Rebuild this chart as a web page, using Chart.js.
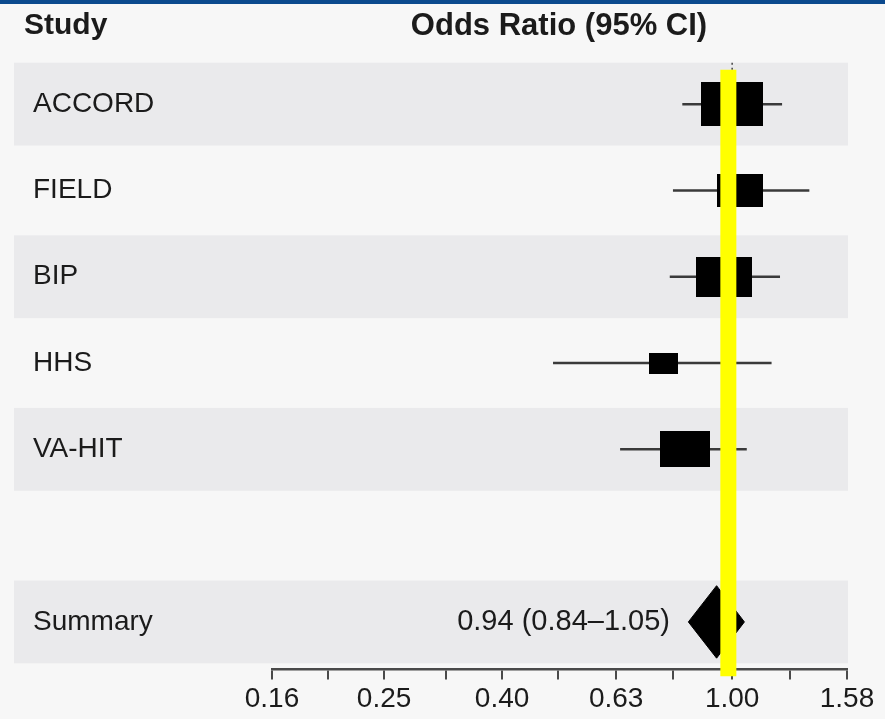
<!DOCTYPE html>
<html>
<head>
<meta charset="utf-8">
<title>Odds Ratio Forest Plot</title>
<script src="https://cdn.jsdelivr.net/npm/chart.js@4/dist/chart.umd.min.js"></script>
<style>
  html, body { margin: 0; padding: 0; background: #f7f7f7; }
  #wrap { width: 885px; height: 719px; }
</style>
</head>
<body>
<div id="wrap"><canvas id="forest" width="885" height="719"></canvas></div>
<script>
// Individual studies
const studies   = ['ACCORD', 'FIELD', 'BIP', 'HHS', 'VA-HIT'];
const oddsRatio = [1.00, 1.03, 0.97, 0.76, 0.83];
const ciLower   = [0.82, 0.79, 0.78, 0.49, 0.64];
const ciUpper   = [1.22, 1.36, 1.21, 1.17, 1.06];
const weights   = [30.3, 17.1, 24.9, 7.0, 20.7];   // percent weight, sets box size

// Pooled estimate: [odds ratio, lower, upper]
const summaryLabel = 'Summary';
const summary = [0.94, 0.84, 1.05];

// Axis ticks
const axisTicks  = [0.16, 0.25, 0.40, 0.63, 1.00, 1.58];
const minorTicks = [0.20, 0.32, 0.50, 0.79, 1.26];

// Highlighted reference value
const highlightOR = 0.985;

// ---------------------------------------------------------------
const INK = '#1b1b1b';
const rowOf = i => i + 1;                      // study rows 1..5
const summaryRow = studies.length + 2;         // blank row, then summary

// Weight-scaled black boxes used as point styles
function makeBox(weight) {
  const h = Math.round(8 * Math.sqrt(weight));
  const w = Math.round(h * 1.4);
  const c = document.createElement('canvas');
  c.width = w; c.height = h;
  const g = c.getContext('2d');
  g.fillStyle = '#000';
  g.fillRect(0, 0, w, h);
  return c;
}
const boxes = weights.map(makeBox);

const datasets = [];

// Highlight line
datasets.push({
  type: 'line',
  data: [{ x: highlightOR, y: 0.6 }, { x: highlightOR, y: 7.63 }],
  borderColor: '#ffff00',
  borderWidth: 16,
  borderCapStyle: 'butt',
  pointRadius: 0,
  clip: false,
  order: 0
});

// Study boxes
datasets.push({
  type: 'scatter',
  data: studies.map((s, i) => ({ x: oddsRatio[i], y: rowOf(i) })),
  pointStyle: ctx => boxes[ctx.dataIndex],
  backgroundColor: '#000',
  borderColor: '#000',
  order: 1
});

// Summary diamond
const dh = 0.42;
datasets.push({
  type: 'line',
  data: [
    { x: summary[1], y: summaryRow },
    { x: summary[0], y: summaryRow - dh },
    { x: summary[2], y: summaryRow },
    { x: summary[0], y: summaryRow + dh },
    { x: summary[1], y: summaryRow }
  ],
  borderColor: '#000',
  backgroundColor: '#000',
  borderWidth: 1,
  fill: 'shape',
  pointRadius: 0,
  tension: 0,
  order: 1
});

// Confidence interval whiskers
studies.forEach((s, i) => {
  datasets.push({
    type: 'line',
    data: [{ x: ciLower[i], y: rowOf(i) }, { x: ciUpper[i], y: rowOf(i) }],
    borderColor: '#3a3a3a',
    borderWidth: 2.5,
    pointRadius: 0,
    order: 2
  });
});

// No-effect line at 1.00
datasets.push({
  type: 'line',
  data: [{ x: 1, y: 0.52 }, { x: 1, y: 7.55 }],
  borderColor: '#444',
  borderWidth: 1.5,
  borderDash: [2, 3],
  pointRadius: 0,
  order: 3
});

// Background, row bands and free-standing text
const decor = {
  id: 'decor',
  beforeDraw(chart) {
    const { ctx, scales: { x, y } } = chart;
    ctx.save();
    ctx.fillStyle = '#f7f7f7';
    ctx.fillRect(0, 0, chart.width, chart.height);
    ctx.fillStyle = '#0b4a8e';
    ctx.fillRect(0, 0, chart.width, 4);

    ctx.fillStyle = '#eaeaec';
    const shaded = [1, 3, 5, summaryRow];
    shaded.forEach(r => {
      const top = y.getPixelForValue(r - 0.48);
      const bot = y.getPixelForValue(r + 0.48);
      ctx.fillRect(14, top, x.right + 1 - 14, bot - top);
    });
    ctx.restore();
  },
  afterDraw(chart) {
    const { ctx, scales: { y } } = chart;
    ctx.save();
    ctx.fillStyle = INK;
    ctx.textBaseline = 'middle';
    ctx.font = 'bold 30px "Liberation Sans", Arial, sans-serif';
    ctx.textAlign = 'left';
    ctx.fillText('Study', 24, 26);
    ctx.font = 'bold 31px "Liberation Sans", Arial, sans-serif';
    ctx.textAlign = 'center';
    ctx.fillText('Odds Ratio (95% CI)', 559, 26);

    ctx.font = '29px "Liberation Sans", Arial, sans-serif';
    ctx.textAlign = 'right';
    const txt = summary[0].toFixed(2) + ' (' + summary[1].toFixed(2) + '\u2013' + summary[2].toFixed(2) + ')';
    ctx.fillText(txt, 670, y.getPixelForValue(summaryRow));
    ctx.restore();
  }
};

const rowLabels = {};
studies.forEach((s, i) => { rowLabels[rowOf(i)] = s; });
rowLabels[summaryRow] = summaryLabel;

new Chart(document.getElementById('forest'), {
  type: 'scatter',
  data: { datasets },
  options: {
    responsive: false,
    animation: false,
    devicePixelRatio: 1,
    layout: { padding: { left: 33, right: 38, top: 61, bottom: 0 } },
    plugins: { legend: { display: false }, tooltip: { enabled: false } },
    scales: {
      x: {
        type: 'logarithmic',
        position: 'bottom',
        min: axisTicks[0],
        max: axisTicks[axisTicks.length - 1],
        afterBuildTicks: scale => {
          scale.ticks = axisTicks.concat(minorTicks).sort((a, b) => a - b)
            .map(v => ({ value: v }));
        },
        ticks: {
          autoSkip: false,
          maxRotation: 0,
          padding: 3,
          color: INK,
          font: { family: '"Liberation Sans", Arial, sans-serif', size: 28 },
          callback: v => axisTicks.includes(v) ? v.toFixed(2) : ''
        },
        grid: {
          drawOnChartArea: false,
          drawTicks: true,
          tickLength: 10,
          color: '#4a4a4a',
          lineWidth: 2
        },
        border: { display: true, color: '#4a4a4a', width: 2.5 }
      },
      y: {
        type: 'linear',
        reverse: true,
        min: 0.5,
        max: 7.55,
        afterBuildTicks: scale => {
          scale.ticks = Object.keys(rowLabels).map(k => ({ value: +k }));
        },
        afterFit: scale => { scale.width = 239; },
        ticks: {
          crossAlign: 'far',
          color: INK,
          font: { family: '"Liberation Sans", Arial, sans-serif', size: 28 },
          callback: v => rowLabels[v] || ''
        },
        grid: { display: false },
        border: { display: false }
      }
    }
  },
  plugins: [decor]
});
</script>
</body>
</html>
